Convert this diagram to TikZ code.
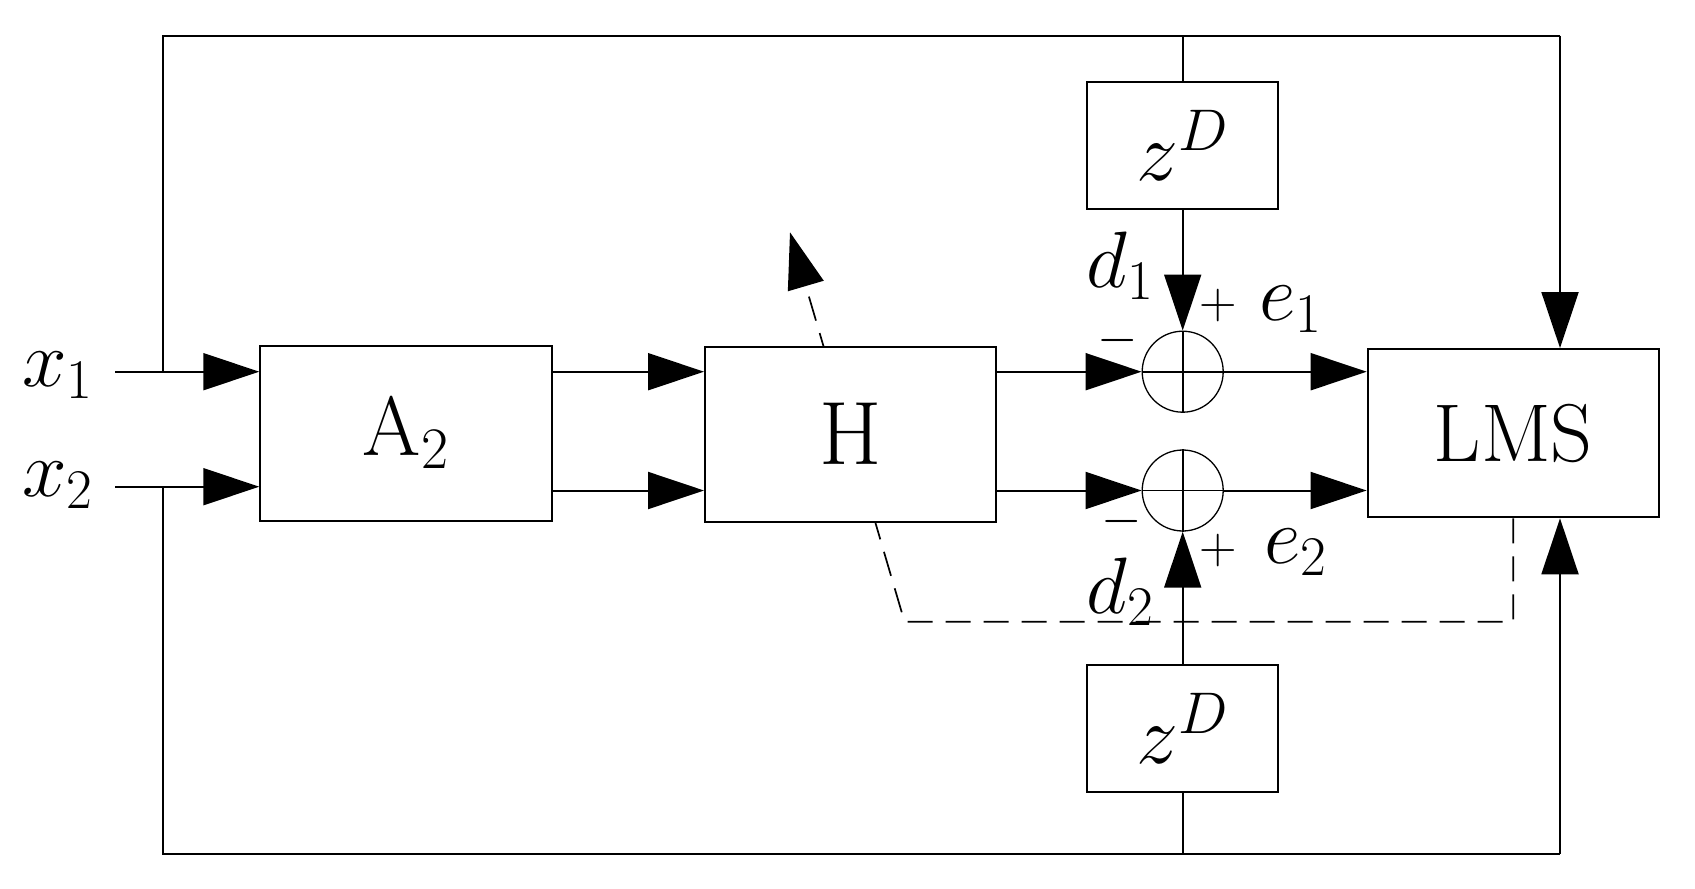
\RequirePackage{fix-cm}
\documentclass[tikz,border=0pt]{standalone}
\usetikzlibrary{arrows.meta,backgrounds}
\tikzset{
  ln/.style={line width=1pt},
  thinln/.style={line width=0.8pt},
  arr/.style={ln,-{Triangle[length=28pt,width=18.5pt]}},
  thinarr/.style={thinln,-{Triangle[length=28pt,width=18.5pt]}},
  blk/.style={draw,fill=white,line width=1pt,inner sep=0pt},
  sumnode/.style={draw,circle,fill=white,line width=0.65pt,minimum size=40.5pt,inner sep=0pt},
  lab/.style={inner sep=0pt,font=\fontsize{40}{48}\selectfont},
  sgn/.style={inner sep=0pt,font=\fontsize{26}{30}\selectfont},
  dsh/.style={line width=0.85pt,dash pattern=on 12.5pt off 6.5pt}
}
\begin{document}
\begin{tikzpicture}[x=0.5pt,y=-0.5pt]
\useasboundingbox (0,0) rectangle (1695,888);
% blocks
\node[blk,minimum width=145.75pt,minimum height=87.35pt,font=\fontsize{42}{50}\selectfont] (A) at (406,433.4) {$\mathrm{A}_2$};
\node[blk,minimum width=145.5pt,minimum height=87.5pt,font=\fontsize{45}{54}\selectfont] (H) at (850.5,434.2) {H};
\node[blk,minimum width=145.65pt,minimum height=84.15pt,font=\fontsize{41}{50}\selectfont] (LMS) at (1513.3,433.2) {LMS};
\node[blk,minimum width=95.3pt,minimum height=63.65pt,font=\fontsize{42}{50}\selectfont] (zA) at (1182.7,145.3) {$z^D$};
\node[blk,minimum width=95.3pt,minimum height=63.35pt,font=\fontsize{42}{50}\selectfont] (zB) at (1182.7,728.3) {$z^D$};
\node[sumnode] (S1) at (1182.7,371.7) {};
\node[sumnode] (S2) at (1182.7,490.5) {};
% coordinates
\coordinate (in1) at (115,371.7);
\coordinate (in2) at (115,486.7);
\coordinate (tl) at (163,35.7);
\coordinate (bl) at (163,854);
\coordinate (tr) at (1560,35.7);
\coordinate (br) at (1560,854);
\coordinate (row1) at (0,371.7);
\coordinate (row2) at (0,490.5);
\coordinate (dc) at (904.5,621.7);
\coordinate (dtip) at (790,232.3);
% dashed adaptation arrow (behind blocks)
\begin{pgfonlayer}{background}
\draw[dsh,-{Triangle[length=28pt,width=18.5pt]}] (LMS.south) -- (LMS.south |- dc) -- (dc) -- (dtip);
\end{pgfonlayer}
% inputs
\draw[arr] (in1) -- (in1 -| A.west);
\draw[arr] (in2) -- (in2 -| A.west);
% outer frame
\draw[ln] (tl |- in1) -- (tl) -- (tr);
\draw[arr] (tr) -- (tr |- LMS.north);
\draw[ln] (bl |- in2) -- (bl) -- (br);
\draw[arr] (br) -- (br |- LMS.south);
\draw[thinln] (zA.north |- tl) -- (zA.north);
\draw[thinln] (zB.south |- bl) -- (zB.south);
% delays to sums
\draw[thinarr] (zA.south) -- (S1.north);
\draw[thinarr] (zB.north) -- (S2.south);
% A2 -> H
\draw[arr] (A.east |- row1) -- (H.west |- row1);
\draw[arr] (A.east |- row2) -- (H.west |- row2);
% H -> sums
\draw[arr] (H.east |- row1) -- (S1.west);
\draw[arr] (H.east |- row2) -- (S2.west);
% sums -> LMS
\draw[arr] (S1.east) -- (LMS.west |- S1.east);
\draw[arr] (S2.east) -- (LMS.west |- S2.east);
% crosses in sums
\draw[thinln] (S1.north) -- (S1.south) (S1.west) -- (S1.east);
\draw[thinln] (S2.north) -- (S2.south) (S2.west) -- (S2.east);
% labels
\node[lab,anchor=base west] (lx1) at (22,386) {$x_1$};
\node[lab,anchor=base west] (lx2) at (22,496) {$x_2$};
\node[lab,anchor=base west] (ld1) at (1086,287) {$d_1$};
\node[lab,anchor=base west] (ld2) at (1086,613.3) {$d_2$};
\node[lab,anchor=base west] (le1) at (1259,320) {$e_1$};
\node[lab,anchor=base west] (le2) at (1264,563.3) {$e_2$};
\node[sgn] (p1) at (1218,305) {$+$};
\node[sgn] (p2) at (1218,550) {$+$};
\node[sgn] (m1) at (1118,340.7) {$-$};
\node[sgn] (m2) at (1121.5,521.7) {$-$};
\end{tikzpicture}
\end{document}
